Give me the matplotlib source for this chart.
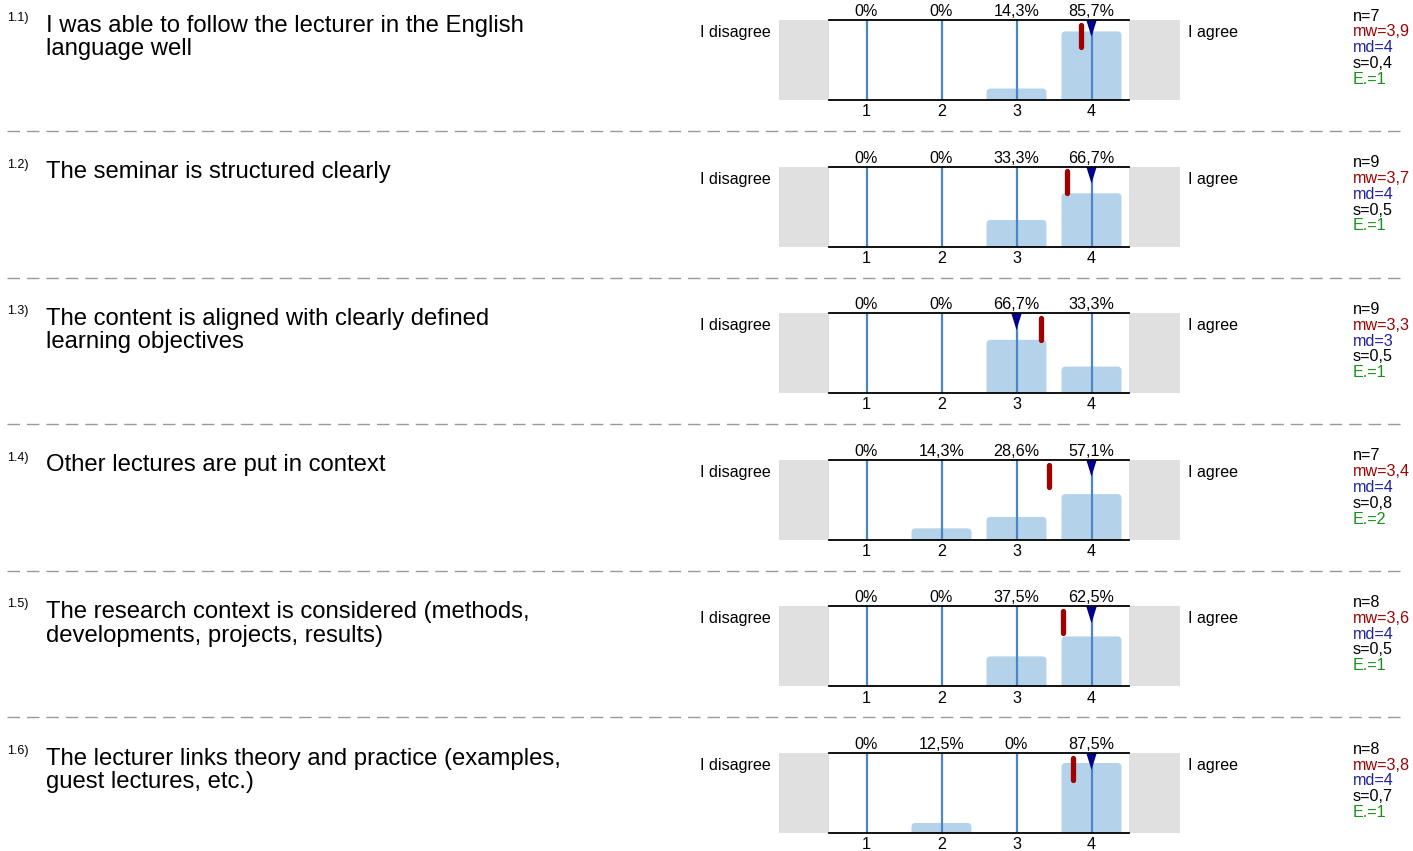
import matplotlib
matplotlib.use("Agg")
import matplotlib.pyplot as plt
from matplotlib.patches import FancyBboxPatch, Rectangle, Polygon
from matplotlib.lines import Line2D

plt.rcParams['font.family'] = ['Liberation Sans', 'DejaVu Sans']

numbers = ["1.1)", "1.2)", "1.3)", "1.4)", "1.5)", "1.6)"]
questions = [
    ["I was able to follow the lecturer in the English", "language well"],
    ["The seminar is structured clearly"],
    ["The content is aligned with clearly defined", "learning objectives"],
    ["Other lectures are put in context"],
    ["The research context is considered (methods,", "developments, projects, results)"],
    ["The lecturer links theory and practice (examples,", "guest lectures, etc.)"],
]
categories = [1, 2, 3, 4]
percents = [
    [0, 0, 14.3, 85.7],
    [0, 0, 33.3, 66.7],
    [0, 0, 66.7, 33.3],
    [0, 14.3, 28.6, 57.1],
    [0, 0, 37.5, 62.5],
    [0, 12.5, 0, 87.5],
]
n_vals = [7, 9, 9, 7, 8, 8]
mw_vals = [3.9, 3.7, 3.3, 3.4, 3.6, 3.8]
md_vals = [4, 4, 3, 4, 4, 4]
s_vals = [0.4, 0.5, 0.5, 0.8, 0.5, 0.7]
e_vals = [1, 1, 1, 2, 1, 1]
left_label = "I disagree"
right_label = "I agree"

W, H = 1413, 851
fig = plt.figure(figsize=(W / 100, H / 100), dpi=100)

def fx(x):
    return x / W

def fy(y):
    return 1 - y / H

def fmt(v):
    return ("%g" % v).replace(".", ",")

def fmt_pct(p):
    if p == 0:
        return "0%"
    return ("%.1f" % p).replace(".", ",") + "%"

BAR = "#b4d3ea"
VLINE = "#4a86c4"
GRAY = "#e0e0e0"
RED = "#a00000"
NAVY = "#00008b"
BLUE = "#2020a0"
GREEN = "#1a8f1a"
FS = 11.6

ax_l, ax_r = 829, 1129
ax_h = 80
step = 146.6

for i in range(6):
    y0 = 20 + i * step
    ax = fig.add_axes([fx(ax_l), fy(y0 + ax_h), (ax_r - ax_l) / W, ax_h / H])
    ax.set_xlim(0.5, 4.5)
    ax.set_ylim(0, 1)
    for sp in ["left", "right"]:
        ax.spines[sp].set_visible(False)
    for sp in ["top", "bottom"]:
        ax.spines[sp].set_linewidth(1.3)
        ax.spines[sp].set_color("black")
        ax.spines[sp].set_zorder(5)
    ax.set_xticks(categories)
    ax.set_xticklabels([str(c) for c in categories], fontsize=FS)
    ax.tick_params(axis="x", length=0, pad=3)
    ax.set_yticks([])
    ax.patch.set_alpha(0)

    # gray side boxes
    ax.add_patch(Rectangle((-50 / 300, 0), 50 / 300, 1, transform=ax.transAxes,
                           facecolor=GRAY, edgecolor="none", clip_on=False, zorder=0))
    ax.add_patch(Rectangle((1, 0), 51 / 300, 1, transform=ax.transAxes,
                           facecolor=GRAY, edgecolor="none", clip_on=False, zorder=0))

    for c, p in zip(categories, percents[i]):
        h = p / 100.0
        if h > 0:
            ax.add_patch(FancyBboxPatch((c - 0.4, -0.06), 0.8, h + 0.06,
                                        boxstyle="round,pad=0,rounding_size=0.055",
                                        mutation_aspect=0.94,
                                        facecolor=BAR, edgecolor="none", zorder=1))
        ax.axvline(c, color=VLINE, lw=1.6, zorder=2)
        ax.text(c, 1.0 + 8.5 / 80, fmt_pct(p),
                ha="center", va="center", fontsize=FS, transform=ax.get_xaxis_transform())

    # mean marker (exact mean from distribution)
    mean = sum(c * p for c, p in zip(categories, percents[i])) / sum(percents[i])
    ax.add_line(Line2D([mean, mean], [0.94, 0.665], color=RED, lw=3.8,
                       solid_capstyle="round", zorder=4, transform=ax.get_xaxis_transform()))
    # median marker
    m = md_vals[i]
    ax.add_patch(Polygon([[m - 0.07, 1.0], [m + 0.07, 1.0], [m, 0.79]], closed=True,
                         facecolor=NAVY, edgecolor="none", zorder=4,
                         transform=ax.get_xaxis_transform()))

    # side labels
    fig.text(fx(771), fy(y0 + 12.5), left_label, ha="right", va="center", fontsize=FS)
    fig.text(fx(1188), fy(y0 + 12.5), right_label, ha="left", va="center", fontsize=FS)

    # number + question
    fig.text(fx(7), fy(y0 - 2), numbers[i], ha="left", va="center", fontsize=9)
    for k, line in enumerate(questions[i]):
        fig.text(fx(46), fy(y0 + 11.7 + 23.5 * k), line, ha="left", va="baseline",
                 fontsize=17.2)

    # stats
    stats = [("n=%d" % n_vals[i], "black"),
             ("mw=" + fmt(mw_vals[i]), RED),
             ("md=%d" % md_vals[i], BLUE),
             ("s=" + fmt(s_vals[i]), "black"),
             ("E.=%d" % e_vals[i], GREEN)]
    for k, (t, col) in enumerate(stats):
        fig.text(fx(1353), fy(y0 - 3.8 + 15.8 * k), t, ha="left", va="center",
                 fontsize=FS, color=col)

    if i < 5:
        yl = fy(y0 + 111)
        ln = Line2D([fx(7), fx(1405)], [yl, yl], transform=fig.transFigure,
                    color="#999999", lw=1.0)
        ln.set_dashes([9, 5])
        fig.add_artist(ln)

fig.savefig("out.png", dpi=100)
